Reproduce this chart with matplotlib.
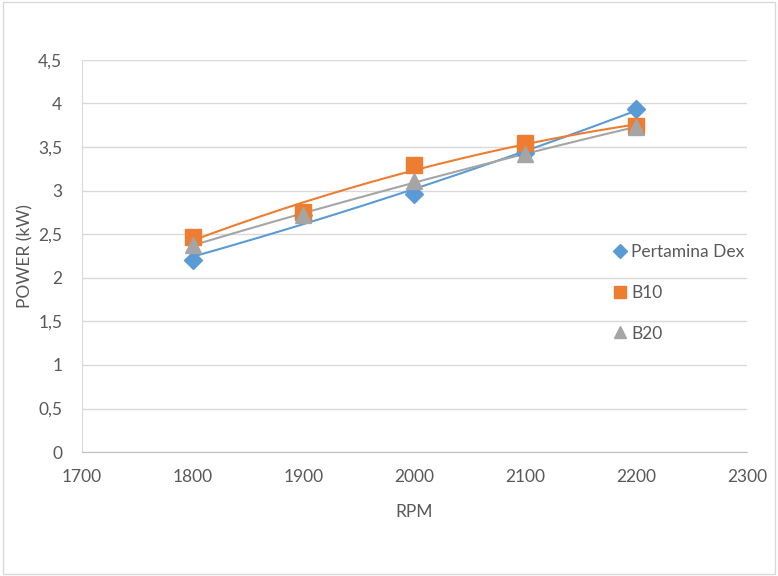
import numpy as np
import matplotlib
matplotlib.use("Agg")
import matplotlib.pyplot as plt
from matplotlib.ticker import FuncFormatter
from matplotlib.patches import Rectangle

rpm = [1800, 1900, 2000, 2100, 2200]
pertamina_dex = [2.20, 2.72, 2.96, 3.43, 3.94]
b10 = [2.47, 2.76, 3.30, 3.55, 3.74]
b20 = [2.38, 2.72, 3.11, 3.42, 3.73]
series_names = ["Pertamina Dex", "B10", "B20"]

colors = ["#5B9BD5", "#ED7D31", "#A5A5A5"]
markers = ["D", "s", "^"]
msizes = [9, 11, 11]

plt.rcParams['font.family'] = ['Lato', 'DejaVu Sans']
txt = "#595959"
fs = 12.5

fig = plt.figure(figsize=(7.78, 5.76), dpi=100)
ax = fig.add_axes([0.105, 0.215, 0.855, 0.681])
fig.patches.append(Rectangle((0.004, 0.004), 0.992, 0.992, transform=fig.transFigure,
                             fill=False, edgecolor="#D9D9D9", linewidth=1))

xs = np.linspace(min(rpm), max(rpm), 200)
for name, ys, c, m, ms in zip(series_names, [pertamina_dex, b10, b20], colors, markers, msizes):
    coef = np.polyfit(rpm, ys, 2)
    ax.plot(xs, np.polyval(coef, xs), color=c, linewidth=1.5, zorder=2)
for name, ys, c, m, ms in zip(series_names, [pertamina_dex, b10, b20], colors, markers, msizes):
    ax.plot(rpm, ys, linestyle="none", marker=m, markersize=ms, color=c, label=name, zorder=3)

ax.set_xlim(1700, 2300)
ax.set_ylim(0, 4.5)
ax.set_xticks(np.arange(1700, 2301, 100))
ax.set_yticks(np.arange(0, 4.51, 0.5))
ax.yaxis.set_major_formatter(FuncFormatter(lambda v, p: ("%g" % v).replace(".", ",")))
ax.grid(axis="y", color="#D9D9D9", linewidth=1)
ax.set_axisbelow(True)
for s in ["top", "right"]:
    ax.spines[s].set_visible(False)
ax.spines["left"].set_color("#D9D9D9")
ax.spines["bottom"].set_color("#BFBFBF")
ax.tick_params(axis="both", length=0, colors=txt, labelsize=fs)
ax.tick_params(axis="y", pad=14)
ax.tick_params(axis="x", pad=12)
ax.set_xlabel("RPM", color=txt, fontsize=fs, labelpad=14)
ax.set_ylabel("POWER (kW)", color=txt, fontsize=fs, labelpad=0)
ax.yaxis.set_label_coords(-0.072, 0.5)

leg = ax.legend(loc="upper left", bbox_to_anchor=(0.77, 0.57), frameon=False,
                fontsize=fs, labelcolor=txt, handletextpad=0.05, labelspacing=1.42,
                markerscale=0.75, handlelength=1.2)

fig.savefig("out.png", dpi=100)
